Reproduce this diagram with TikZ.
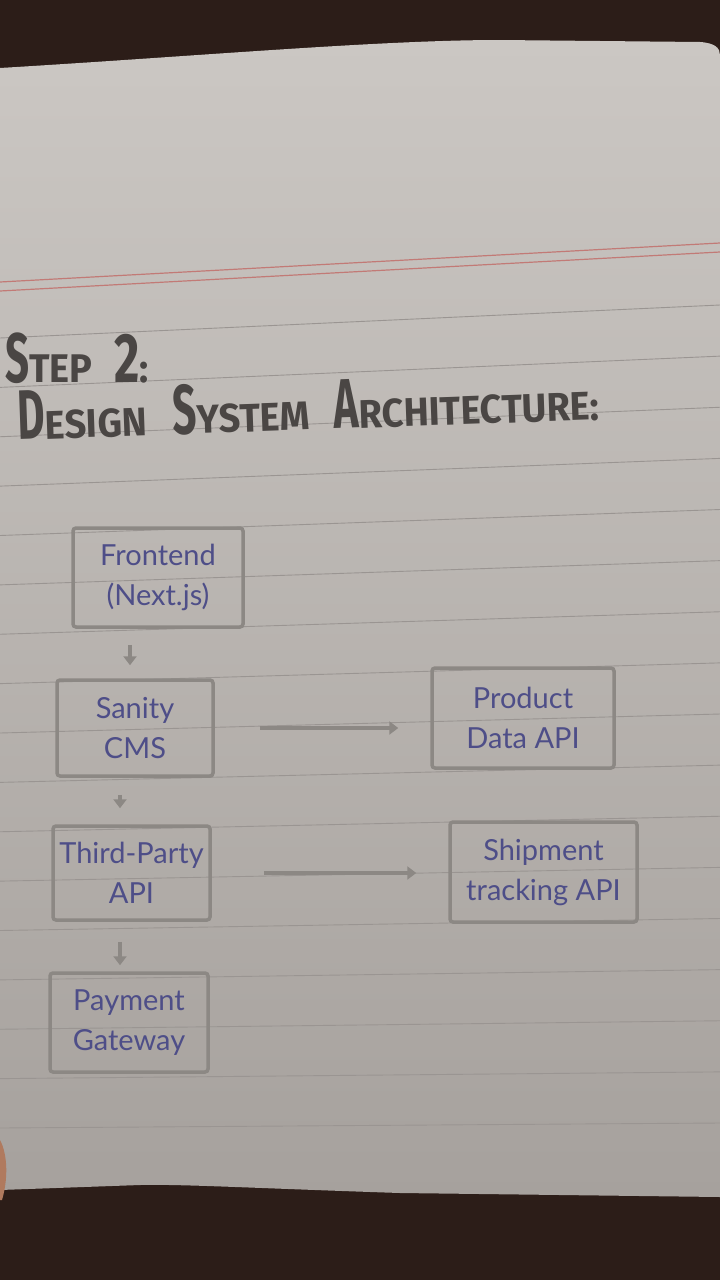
\documentclass[tikz,border=0pt]{standalone}
\usepackage{fontspec}
\usepackage{graphicx}
\setmainfont{Lato}
\newfontfamily\titlefont{Fira Sans}
\usetikzlibrary{arrows.meta}
\definecolor{wood}{HTML}{2C1D18}
\definecolor{paperT}{HTML}{CBC7C3}
\definecolor{paperB}{HTML}{A6A19D}
\definecolor{rulec}{HTML}{9A9592}
\definecolor{redrule}{HTML}{C27A76}
\definecolor{pencil}{HTML}{8C8884}
\definecolor{ink}{HTML}{4E4E88}
\definecolor{marker}{HTML}{4A4644}
\definecolor{skin}{HTML}{B07A5E}
\tikzset{
  box/.style={draw=pencil, line width=3.5pt, rounded corners=3pt, align=center,
    font=\fontsize{29}{40}\selectfont, text=ink, inner sep=0pt},
  arr/.style={draw=pencil, line width=3.5pt, -{Triangle[width=13pt,length=9pt]}},
  ruled/.style={draw=rulec, line width=0.9pt},
  title/.style={text=marker, font=\titlefont\bfseries, inner sep=0pt},
}
\newcommand{\myBig}[1]{\scalebox{0.6}[1]{\fontsize{70}{70}\selectfont #1}}
\newcommand{\mySmall}[1]{\scalebox{0.95}[1]{\fontsize{40}{40}\selectfont #1}}
\begin{document}
\begin{tikzpicture}[x=1pt,y=-1pt]
\useasboundingbox (0,0) rectangle (720,1280);
\fill[wood] (0,0) rectangle (720,1280);
\shade[top color=paperT, bottom color=paperB]
  (0,68) .. controls (200,56) and (380,40) .. (500,40) -- (700,42)
  .. controls (715,43) and (720,48) .. (720,55) -- (720,1197)
  -- (400,1193) .. controls (250,1188) and (180,1184) .. (140,1185) -- (0,1190) -- cycle;
\fill[skin] (0,1140) .. controls (8,1155) and (8,1180) .. (2,1200) -- (0,1200) -- cycle;
% ruled lines
\foreach \k in {0,...,16}
  \draw[ruled] (0,{338+\k*49.375}) -- (720,{305+\k*51.125});
% red margin lines
\draw[redrule, line width=1.2pt] (0,282) -- (720,243);
\draw[redrule, line width=1.2pt] (0,291) -- (720,252);
% title
\node[title, anchor=base west] (t1) at (5,382)
  {\myBig{S}\mySmall{TEP}\hspace{22pt}\scalebox{0.7}[1]{\fontsize{70}{70}\selectfont 2}\mySmall{:}};
\node[title, anchor=base west, rotate=2] (t2) at (18,440)
  {\myBig{D}\mySmall{ESIGN}\hspace{26pt}\myBig{S}\mySmall{YSTEM}\hspace{24pt}\myBig{A}\mySmall{RCHITECTURE:}};
% boxes
\node[box, minimum width=170, minimum height=99] (fe) at (158,577.5) {Frontend\\(Next.js)};
\node[box, minimum width=156, minimum height=96] (sc) at (135,728) {Sanity\\CMS};
\node[box, minimum width=182, minimum height=100] (pd) at (523,718) {Product\\Data API};
\node[box, minimum width=157, minimum height=94] (tp) at (131.5,873) {Third-Party\\API};
\node[box, minimum width=187, minimum height=100] (sh) at (543.5,872) {Shipment\\tracking API};
\node[box, minimum width=158, minimum height=99] (pg) at (129,1022.5) {Payment\\Gateway};
% connectors
\draw[arr, shorten <=16pt, shorten >=13pt] ([xshift=-28pt]fe.south) -- ([xshift=-5pt]sc.north);
\draw[arr, shorten <=17pt, shorten >=16pt] ([xshift=-15pt]sc.south) -- ([xshift=-11.5pt]tp.north);
\draw[arr, shorten <=20pt, shorten >=6pt] ([xshift=-11.5pt]tp.south) -- ([xshift=-9pt]pg.north);
\draw[arr, shorten <=45pt, shorten >=32pt] (sc.east) -- (sc.east -| pd.west);
\draw[arr, shorten <=52pt, shorten >=32pt] (tp.east) -- (tp.east -| sh.west);
\end{tikzpicture}
\end{document}
